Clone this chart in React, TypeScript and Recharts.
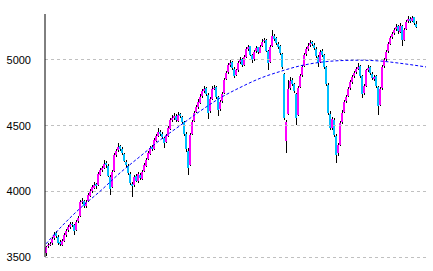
import { ComposedChart, Bar, Line, XAxis, YAxis, ReferenceLine } from 'recharts'

// daily candles left to right
const opens = [
  3530, 3580, 3595, 3605, 3645, 3680, 3655, 3615, 3595, 3625,
  3665, 3705, 3725, 3755, 3745, 3705, 3775, 3810, 3915, 3925,
  3885, 3925, 3965, 4005, 4025, 4055, 4045, 4125, 4165, 4175,
  4215, 4195, 4110, 4030, 4155, 4275, 4315, 4345, 4325, 4285,
  4225, 4195, 4135, 4055, 4045, 4115, 4075, 4125, 4095, 4155,
  4195, 4245, 4285, 4335, 4325, 4385, 4425, 4455, 4435, 4405,
  4375, 4425, 4475, 4545, 4555, 4575, 4535, 4585, 4565, 4525,
  4435, 4310, 4200, 4440, 4535, 4605, 4645, 4675, 4725, 4765,
  4785, 4735, 4610, 4705, 4785, 4795, 4715, 4625, 4685, 4745,
  4855, 4905, 4965, 4985, 4935, 4885, 4925, 4985, 5005, 4965,
  5025, 5085, 5105, 5035, 5005, 5065, 5095, 5055, 5105, 5145,
  5155, 5065, 4985, 5105, 5185, 5165, 5125, 5105, 5045, 4890,
  4380, 4590, 4785, 4845, 4815, 4740, 4580, 4795, 4885, 4955,
  5045, 5085, 5115, 5135, 5115, 5085, 5025, 4985, 5065, 5035,
  4945, 4810, 4590, 4485, 4545, 4425, 4290, 4355, 4525, 4605,
  4685, 4725, 4785, 4835, 4875, 4905, 4935, 4955, 4875, 4745,
  4805, 4925, 4945, 4895, 4855, 4875, 4795, 4660, 4785, 4955,
  5005, 5065, 5125, 5175, 5205, 5235, 5255, 5215, 5255, 5155,
  5235, 5295, 5315, 5295, 5325, 5275,
]
const highs = [
  3585, 3605, 3615, 3655, 3690, 3695, 3665, 3630, 3640, 3685,
  3715, 3745, 3770, 3770, 3750, 3785, 3815, 3935, 3950, 3935,
  3935, 3985, 4015, 4045, 4070, 4065, 4145, 4175, 4195, 4240,
  4230, 4205, 4125, 4160, 4295, 4325, 4370, 4355, 4335, 4295,
  4240, 4210, 4150, 4070, 4125, 4130, 4145, 4140, 4165, 4215,
  4255, 4305, 4345, 4350, 4405, 4435, 4480, 4470, 4450, 4415,
  4435, 4495, 4555, 4580, 4600, 4585, 4605, 4600, 4575, 4535,
  4450, 4330, 4445, 4545, 4615, 4655, 4700, 4740, 4780, 4800,
  4795, 4745, 4715, 4800, 4810, 4805, 4725, 4695, 4755, 4865,
  4915, 4975, 5000, 4995, 4945, 4935, 4995, 5020, 5015, 5035,
  5095, 5115, 5110, 5045, 5075, 5110, 5100, 5115, 5160, 5170,
  5160, 5075, 5115, 5230, 5200, 5175, 5140, 5115, 5055, 4900,
  4545, 4850, 4870, 4860, 4825, 4750, 4800, 4895, 4965, 5055,
  5100, 5130, 5150, 5145, 5130, 5095, 5040, 5075, 5080, 5045,
  4955, 4825, 4615, 4565, 4560, 4440, 4365, 4535, 4620, 4695,
  4735, 4795, 4845, 4885, 4915, 4945, 4975, 4965, 4885, 4815,
  4935, 4960, 4955, 4905, 4885, 4885, 4805, 4795, 4965, 5015,
  5075, 5135, 5185, 5215, 5245, 5275, 5265, 5280, 5265, 5245,
  5305, 5335, 5325, 5335, 5330, 5295,
]
const lows = [
  3505, 3565, 3580, 3595, 3630, 3645, 3595, 3585, 3585, 3615,
  3655, 3690, 3715, 3725, 3670, 3700, 3760, 3805, 3900, 3870,
  3875, 3915, 3955, 3990, 4015, 4020, 4040, 4115, 4150, 4170,
  4180, 4110, 3970, 4025, 4150, 4265, 4300, 4305, 4275, 4220,
  4185, 4125, 4050, 3960, 4035, 4070, 4065, 4090, 4085, 4145,
  4185, 4235, 4275, 4305, 4315, 4375, 4410, 4425, 4395, 4330,
  4365, 4415, 4470, 4530, 4545, 4525, 4530, 4555, 4515, 4420,
  4300, 4125, 4190, 4430, 4525, 4595, 4630, 4665, 4710, 4750,
  4725, 4550, 4600, 4695, 4770, 4705, 4570, 4615, 4670, 4740,
  4845, 4895, 4950, 4925, 4865, 4875, 4910, 4970, 4945, 4955,
  5015, 5070, 5030, 4975, 4995, 5055, 5045, 5050, 5095, 5130,
  5060, 4925, 4980, 5095, 5145, 5115, 5085, 5035, 4935, 4540,
  4290, 4580, 4775, 4800, 4745, 4505, 4570, 4785, 4870, 4945,
  5030, 5070, 5100, 5105, 5075, 5015, 4950, 4975, 5025, 4935,
  4800, 4580, 4465, 4470, 4415, 4215, 4270, 4345, 4515, 4595,
  4670, 4715, 4775, 4820, 4860, 4890, 4920, 4865, 4710, 4735,
  4795, 4910, 4885, 4845, 4840, 4785, 4580, 4650, 4775, 4940,
  4995, 5055, 5115, 5160, 5190, 5220, 5200, 5205, 5105, 5145,
  5225, 5280, 5285, 5290, 5265, 5240,
]
const closes = [
  3575, 3590, 3600, 3640, 3670, 3660, 3610, 3600, 3620, 3670,
  3700, 3730, 3750, 3740, 3700, 3770, 3800, 3920, 3930, 3890,
  3920, 3970, 4000, 4030, 4050, 4040, 4130, 4160, 4180, 4210,
  4200, 4120, 4020, 4150, 4280, 4310, 4340, 4320, 4290, 4230,
  4200, 4140, 4060, 4040, 4110, 4080, 4130, 4100, 4150, 4200,
  4240, 4290, 4330, 4320, 4390, 4420, 4450, 4440, 4410, 4370,
  4420, 4480, 4540, 4560, 4570, 4540, 4580, 4570, 4530, 4440,
  4320, 4180, 4430, 4530, 4600, 4640, 4680, 4720, 4760, 4780,
  4740, 4600, 4700, 4780, 4790, 4720, 4620, 4680, 4740, 4850,
  4900, 4960, 4980, 4940, 4880, 4920, 4980, 5000, 4960, 5020,
  5080, 5100, 5040, 5000, 5060, 5090, 5060, 5100, 5140, 5150,
  5070, 4980, 5100, 5180, 5160, 5130, 5100, 5050, 4950, 4560,
  4530, 4780, 4840, 4820, 4760, 4560, 4790, 4880, 4950, 5040,
  5080, 5110, 5130, 5120, 5090, 5030, 4980, 5060, 5040, 4950,
  4820, 4600, 4480, 4550, 4430, 4280, 4350, 4520, 4600, 4680,
  4720, 4780, 4830, 4870, 4900, 4930, 4950, 4880, 4740, 4800,
  4920, 4940, 4900, 4860, 4870, 4800, 4650, 4780, 4950, 5000,
  5060, 5120, 5170, 5200, 5230, 5250, 5220, 5260, 5150, 5230,
  5290, 5310, 5300, 5320, 5280, 5250,
]

// trend curve, read at a handful of slots (it runs past the last candle)
const trendSlots = [0, 7, 17, 27, 37, 47, 57, 67, 77, 87, 97, 107, 117, 127, 137, 147, 157, 167, 177, 190]
const trendValues = [3600, 3720, 3870, 4000, 4140, 4265, 4390, 4500, 4610, 4710, 4790, 4860, 4912, 4955, 4982, 4995, 4998, 4992, 4975, 4947]

const yTicks = [3500, 4000, 4500, 5000]
const SLOTS = 191

const UP = '#FF00FF'
const DOWN = '#00C0FF'

const data = Array.from({ length: SLOTS }, (_, i) => {
  const k = trendSlots.indexOf(i)
  const has = i < closes.length
  return {
    day: i,
    open: has ? opens[i] : null,
    high: has ? highs[i] : null,
    low: has ? lows[i] : null,
    close: has ? closes[i] : null,
    range: has ? [lows[i], highs[i]] : null,
    trend: k >= 0 ? trendValues[k] : null,
  }
})

function Candle(props: any) {
  const { x, y, width, height, payload } = props
  if (!payload || payload.open == null || height == null) return null
  const { open, close, high, low } = payload
  const top0 = Math.min(y, y + height)
  const h = Math.abs(height)
  const py = (v: number) => top0 + (high === low ? 0 : ((high - v) / (high - low)) * h)
  const cx = Math.round(x + width / 2)
  const bTop = py(Math.max(open, close))
  const bBot = py(Math.min(open, close))
  return (
    <g shapeRendering="crispEdges">
      <rect x={cx} y={top0} width={1} height={Math.max(1, h)} fill="#000000" />
      <rect
        x={cx - 1}
        y={bTop}
        width={2}
        height={Math.max(1, bBot - bTop)}
        fill={close >= open ? UP : DOWN}
      />
    </g>
  )
}

export default function App() {
  return (
    <div style={{ position: 'absolute', left: 0, top: 0, background: '#fff' }}>
      <ComposedChart
        width={433}
        height={271}
        data={data}
        margin={{ top: 14, right: 6, bottom: 14, left: 0 }}
        barCategoryGap={0}
      >
        <XAxis dataKey="day" hide />
        <YAxis
          width={45}
          domain={[3500, 5350]}
          ticks={yTicks}
          allowDataOverflow
          tickLine={false}
          tickSize={0}
          tickMargin={14}
          axisLine={{ stroke: '#000000' }}
          tick={{ fill: '#000000', fontSize: 11, fontFamily: '"Liberation Sans", Arial, sans-serif' }}
        />
        {yTicks.map((t) => (
          <ReferenceLine key={t} y={t} stroke="#C0C0C0" strokeDasharray="3 3" shapeRendering="crispEdges" />
        ))}
        <Bar dataKey="range" shape={<Candle />} isAnimationActive={false} />
        <Line
          dataKey="trend"
          type="monotone"
          connectNulls
          dot={false}
          stroke="#0000FF"
          strokeWidth={1}
          strokeDasharray="3 2"
          isAnimationActive={false}
        />
      </ComposedChart>
    </div>
  )
}
